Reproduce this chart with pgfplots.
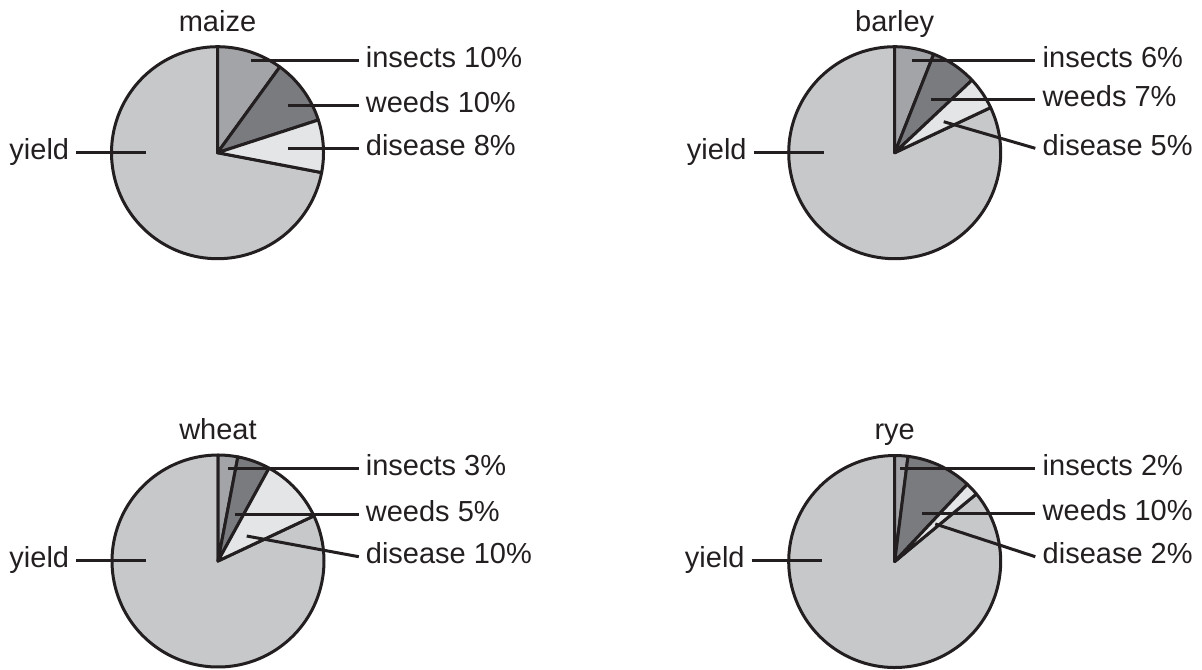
\documentclass[border=0pt]{standalone}
\usepackage{pgfplots}
\pgfplotsset{compat=1.18}
\usepackage{fontspec}
\setmainfont{Liberation Sans}
\definecolor{ink}{RGB}{35,31,32}
\definecolor{cins}{RGB}{163,164,168}
\definecolor{cweed}{RGB}{122,123,127}
\definecolor{cdis}{RGB}{228,229,231}
\definecolor{cyld}{RGB}{199,200,202}
\tikzset{
  wedge/.style={draw=ink, line width=1.5pt, line join=round},
  lead/.style={draw=ink, line width=1.5pt},
  lab/.style={font=\fontsize{14.5pt}{17pt}\selectfont, text=ink, inner sep=0pt},
}
% pie(cx, cy, insects %, weeds %, disease %)
\newcommand{\pie}[5]{%
  \pgfmathsetmacro\aA{90}%
  \pgfmathsetmacro\aB{90-3.6*#3}%
  \pgfmathsetmacro\aC{\aB-3.6*#4}%
  \pgfmathsetmacro\aD{\aC-3.6*#5}%
  \pgfmathsetmacro\aE{\aA-360}%
  \addplot[wedge, forget plot, fill=cyld, domain=\aE:\aD, samples=120] ({#1+106*cos(x)},{#2-106*sin(x)}) -- (axis cs:#1,#2) -- cycle;
  \addplot[wedge, forget plot, fill=cins, domain=\aB:\aA, samples=30] ({#1+106*cos(x)},{#2-106*sin(x)}) -- (axis cs:#1,#2) -- cycle;
  \addplot[wedge, forget plot, fill=cweed, domain=\aC:\aB, samples=30] ({#1+106*cos(x)},{#2-106*sin(x)}) -- (axis cs:#1,#2) -- cycle;
  \addplot[wedge, forget plot, fill=cdis, domain=\aD:\aC, samples=30] ({#1+106*cos(x)},{#2-106*sin(x)}) -- (axis cs:#1,#2) -- cycle;
}
\begin{document}
\begin{tikzpicture}
\begin{axis}[
  width=601pt, height=334pt, scale only axis,
  xmin=0, xmax=1202, ymin=0, ymax=668, y dir=reverse,
  hide axis, clip=false,
]
\addplot[draw=none, forget plot] coordinates {(0,0) (1202,668)};
% ---- data: insects, weeds, disease (percent)
\pie{217.5}{152.7}{10}{10}{8}   % maize
\pie{894.7}{152.7}{6}{7}{5}     % barley
\pie{218}{561}{3}{5}{10}        % wheat
\pie{894.7}{561.5}{2}{10}{2}    % rye
% ---- leader lines
% maize
\addplot[lead, forget plot] coordinates {(250.7,60) (358.8,60)};
\addplot[lead, forget plot] coordinates {(288.3,105) (358.8,105)};
\addplot[lead, forget plot] coordinates {(288.3,148.3) (358.8,148.3)};
\addplot[lead, forget plot] coordinates {(76,152.5) (146,152.5)};
% barley
\addplot[lead, forget plot] coordinates {(912,60) (1035.3,60)};
\addplot[lead, forget plot] coordinates {(931.3,99.3) (1035.3,99.3)};
\addplot[lead, forget plot] coordinates {(943.7,121.7) (1035.3,148.3)};
\addplot[lead, forget plot] coordinates {(753.6,152.5) (823.6,152.5)};
% wheat
\addplot[lead, forget plot] coordinates {(228.3,468.3) (358.8,468.3)};
\addplot[lead, forget plot] coordinates {(235,514) (358.8,514)};
\addplot[lead, forget plot] coordinates {(246.7,536) (358.8,556.7)};
\addplot[lead, forget plot] coordinates {(76,560.7) (146,560.7)};
% rye
\addplot[lead, forget plot] coordinates {(900.3,468.3) (1035.3,468.3)};
\addplot[lead, forget plot] coordinates {(922,513.3) (1035.3,513.3)};
\addplot[lead, forget plot] coordinates {(935.3,524) (1035.3,556.7)};
\addplot[lead, forget plot] coordinates {(751.7,560.7) (822.3,560.7)};
% ---- titles
\node[lab, anchor=base] at (axis cs:217.5,31) {maize};
\node[lab, anchor=base] at (axis cs:894.7,31.5) {barley};
\node[lab, anchor=base] at (axis cs:218,439.3) {wheat};
\node[lab, anchor=base] at (axis cs:894.7,439.3) {rye};
% ---- labels (baseline = leader y + 7.2)
\node[lab, anchor=base west] at (axis cs:365.5,67.2) {insects 10\%};
\node[lab, anchor=base west] at (axis cs:365.5,112.2) {weeds 10\%};
\node[lab, anchor=base west] at (axis cs:365.5,155.5) {disease 8\%};
\node[lab, anchor=base east] at (axis cs:69.5,159.7) {yield};
\node[lab, anchor=base west] at (axis cs:1042.3,67.2) {insects 6\%};
\node[lab, anchor=base west] at (axis cs:1042.3,106.5) {weeds 7\%};
\node[lab, anchor=base west] at (axis cs:1042.3,155.5) {disease 5\%};
\node[lab, anchor=base east] at (axis cs:747,159.7) {yield};
\node[lab, anchor=base west] at (axis cs:365.5,475.5) {insects 3\%};
\node[lab, anchor=base west] at (axis cs:365.5,521.2) {weeds 5\%};
\node[lab, anchor=base west] at (axis cs:365.5,563.9) {disease 10\%};
\node[lab, anchor=base east] at (axis cs:69.5,567.9) {yield};
\node[lab, anchor=base west] at (axis cs:1042.3,475.5) {insects 2\%};
\node[lab, anchor=base west] at (axis cs:1042.3,520.5) {weeds 10\%};
\node[lab, anchor=base west] at (axis cs:1042.3,563.9) {disease 2\%};
\node[lab, anchor=base east] at (axis cs:745,567.9) {yield};
\end{axis}
\end{tikzpicture}
\end{document}
